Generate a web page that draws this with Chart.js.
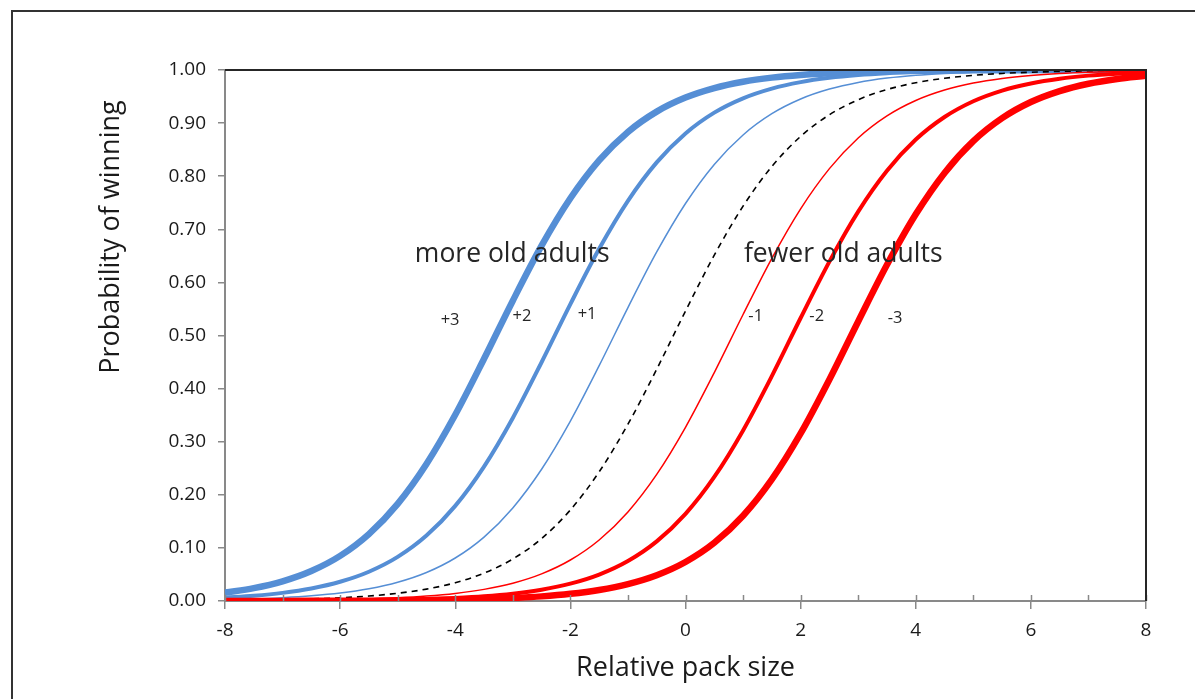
<!DOCTYPE html>
<html>
<head>
<meta charset="utf-8">
<script src="https://cdn.jsdelivr.net/npm/chart.js@4.4.1/dist/chart.umd.min.js"></script>
<style>
    html, body { margin: 0; padding: 0; background: #fff; overflow: hidden; }
    #frame { position: absolute; left: 11px; top: 10px; width: 1200px; height: 700px; border: 2px solid #333; box-sizing: border-box; }
    #wrap { position: absolute; left: 0; top: 0; width: 1195px; height: 699px; }
</style>
</head>
<body>
<div id="frame"></div>
<div id="wrap"><canvas id="packChart" width="1195" height="699"></canvas></div>
<script>
const xValues = [-8, -7.5, -7, -6.5, -6, -5.5, -5, -4.5, -4, -3.5, -3, -2.5, -2, -1.5, -1, -0.5, 0,
    0.5, 1, 1.5, 2, 2.5, 3, 3.5, 4, 4.5, 5, 5.5, 6, 6.5, 7, 7.5, 8];

const plus3 = [0.0157, 0.0242, 0.0371, 0.0565, 0.0850, 0.1261, 0.1830, 0.2581, 0.3507, 0.4561, 0.5656, 0.6691, 0.7584, 0.8298, 0.8833, 0.9216, 0.9480,
    0.9659, 0.9778, 0.9856, 0.9907, 0.9940, 0.9961, 0.9975, 0.9984, 0.9990, 0.9993, 0.9996, 0.9997, 0.9998, 0.9999, 0.9999, 1.0000];
const plus2 = [0.0064, 0.0099, 0.0153, 0.0236, 0.0362, 0.0551, 0.0830, 0.1232, 0.1791, 0.2531, 0.3447, 0.4496, 0.5591, 0.6632, 0.7536, 0.8260, 0.8805,
    0.9197, 0.9467, 0.9650, 0.9772, 0.9852, 0.9904, 0.9938, 0.9960, 0.9974, 0.9983, 0.9989, 0.9993, 0.9996, 0.9997, 0.9998, 0.9999];
const plus1 = [0.0026, 0.0040, 0.0063, 0.0097, 0.0149, 0.0230, 0.0353, 0.0537, 0.0810, 0.1204, 0.1753, 0.2481, 0.3388, 0.4431, 0.5526, 0.6573, 0.7486,
    0.8222, 0.8777, 0.9177, 0.9454, 0.9641, 0.9766, 0.9848, 0.9902, 0.9936, 0.9959, 0.9974, 0.9983, 0.9989, 0.9993, 0.9995, 0.9997];
const baseline = [0.0011, 0.0016, 0.0025, 0.0039, 0.0061, 0.0094, 0.0146, 0.0224, 0.0344, 0.0524, 0.0791, 0.1176, 0.1715, 0.2432, 0.3329, 0.4365, 0.5461,
    0.6513, 0.7436, 0.8183, 0.8749, 0.9157, 0.9440, 0.9632, 0.9760, 0.9844, 0.9899, 0.9935, 0.9958, 0.9973, 0.9983, 0.9989, 0.9993];
const minus1 = [0.0004, 0.0007, 0.0010, 0.0016, 0.0025, 0.0038, 0.0059, 0.0092, 0.0142, 0.0219, 0.0335, 0.0511, 0.0772, 0.1149, 0.1678, 0.2384, 0.3271,
    0.4301, 0.5395, 0.6453, 0.7386, 0.8143, 0.8720, 0.9136, 0.9426, 0.9623, 0.9754, 0.9840, 0.9896, 0.9933, 0.9957, 0.9972, 0.9982];
const minus2 = [0.0002, 0.0003, 0.0004, 0.0006, 0.0010, 0.0016, 0.0024, 0.0037, 0.0058, 0.0089, 0.0138, 0.0213, 0.0327, 0.0498, 0.0753, 0.1123, 0.1641,
    0.2336, 0.3213, 0.4236, 0.5330, 0.6392, 0.7334, 0.8103, 0.8690, 0.9115, 0.9412, 0.9613, 0.9747, 0.9836, 0.9894, 0.9931, 0.9956];
const minus3 = [0.0001, 0.0001, 0.0002, 0.0003, 0.0004, 0.0006, 0.0010, 0.0015, 0.0023, 0.0036, 0.0056, 0.0087, 0.0135, 0.0208, 0.0319, 0.0486, 0.0735,
    0.1096, 0.1605, 0.2289, 0.3155, 0.4172, 0.5264, 0.6331, 0.7282, 0.8062, 0.8660, 0.9093, 0.9397, 0.9603, 0.9741, 0.9831, 0.9891];

// curve labels: [text, x, y] in data units
const curveLabels = [['+3', -4.09, 0.529], ['+2', -2.84, 0.537], ['+1', -1.71, 0.540],
    ['-1', 1.22, 0.537], ['-2', 2.28, 0.537], ['-3', 3.64, 0.533]];
const groupLabels = [['more old adults', -3.01, 0.653], ['fewer old adults', 2.74, 0.653]];

const FONT = "'Open Sans', 'Noto Sans', sans-serif";
const BLUE = '#558ED5';
const RED = '#FF0000';
const AXIS_GREY = '#898989';

function toPoints(values) {
    return xValues.map((x, i) => ({ x: x, y: values[i] }));
}

function makeLine(values, color, width, order, dash) {
    return {
        data: toPoints(values),
        borderColor: color,
        borderWidth: width,
        borderDash: dash || [],
        pointRadius: 0,
        fill: false,
        cubicInterpolationMode: 'monotone',
        order: order
    };
}

const extras = {
    id: 'extras',
    afterDraw(chart) {
        const { ctx, chartArea, scales } = chart;
        const xs = scales.x, ys = scales.y;
        ctx.save();

        // upward tick marks on the x axis
        ctx.strokeStyle = AXIS_GREY;
        ctx.lineWidth = 1.5;
        xs.ticks.forEach(t => {
            const px = Math.round(xs.getPixelForValue(t.value)) + 0.5;
            ctx.beginPath();
            ctx.moveTo(px, chartArea.bottom);
            ctx.lineTo(px, chartArea.bottom - 6);
            ctx.stroke();
        });

        // top and right border of plot area
        ctx.strokeStyle = '#262626';
        ctx.lineWidth = 2;
        ctx.beginPath();
        ctx.moveTo(chartArea.left, chartArea.top);
        ctx.lineTo(chartArea.right, chartArea.top);
        ctx.lineTo(chartArea.right, chartArea.bottom);
        ctx.stroke();

        // y axis title
        ctx.fillStyle = '#1a1a1a';
        ctx.font = '27px ' + FONT;
        ctx.textAlign = 'center';
        ctx.textBaseline = 'middle';
        ctx.translate(111, 237);
        ctx.rotate(-Math.PI / 2);
        ctx.fillText('Probability of winning', 0, 0);
        ctx.restore();

        ctx.save();
        ctx.fillStyle = '#262626';
        ctx.textAlign = 'center';
        ctx.textBaseline = 'middle';
        ctx.font = '26.5px ' + FONT;
        groupLabels.forEach(([txt, x, y]) => {
            ctx.fillText(txt, xs.getPixelForValue(x), ys.getPixelForValue(y));
        });
        ctx.font = '16.5px ' + FONT;
        curveLabels.forEach(([txt, x, y]) => {
            ctx.fillText(txt, xs.getPixelForValue(x), ys.getPixelForValue(y));
        });
        ctx.restore();
    }
};

function drawChart() {
    const ctx = document.getElementById('packChart').getContext('2d');
    new Chart(ctx, {
        type: 'line',
        data: {
            datasets: [
                makeLine(minus1, RED, 1.5, 2),
                makeLine(minus2, RED, 4, 1),
                makeLine(minus3, RED, 6.5, 0),
                makeLine(baseline, '#000', 1.6, 3, [6, 5]),
                makeLine(plus1, BLUE, 1.5, 6),
                makeLine(plus2, BLUE, 4, 5),
                makeLine(plus3, BLUE, 6.5, 4)
            ]
        },
        options: {
            responsive: false,
            animation: false,
            layout: { padding: { left: 0, right: 49, top: 70, bottom: 0 } },
            plugins: { legend: { display: false }, tooltip: { enabled: false } },
            scales: {
                x: {
                    type: 'linear',
                    min: -8,
                    max: 8,
                    afterFit: s => { s.height = 98; },
                    ticks: {
                        stepSize: 1,
                        autoSkip: false,
                        maxRotation: 0,
                        color: '#1a1a1a',
                        font: { family: FONT, size: 19 },
                        padding: 10,
                        callback: v => (v % 2 === 0 ? String(v) : '')
                    },
                    grid: {
                        drawOnChartArea: false,
                        tickLength: 8,
                        lineWidth: 1.5,
                        color: c => (c.tick && c.tick.value % 2 === 0 ? AXIS_GREY : 'rgba(0,0,0,0)')
                    },
                    border: { color: AXIS_GREY, width: 2 },
                    title: {
                        display: true,
                        text: 'Relative pack size',
                        color: '#1a1a1a',
                        font: { family: FONT, size: 27 },
                        padding: { top: 8, bottom: 14 }
                    }
                },
                y: {
                    min: 0,
                    max: 1,
                    afterFit: s => { s.width = 225; },
                    ticks: {
                        stepSize: 0.1,
                        color: '#1a1a1a',
                        font: { family: FONT, size: 19 },
                        padding: 12,
                        callback: v => v.toFixed(2)
                    },
                    grid: { drawOnChartArea: false, tickLength: 7, lineWidth: 1.5, color: AXIS_GREY },
                    border: { color: AXIS_GREY, width: 2 }
                }
            }
        },
        plugins: [extras]
    });
}

document.addEventListener('DOMContentLoaded', () => {
    drawChart();
});
</script>
</body>
</html>
